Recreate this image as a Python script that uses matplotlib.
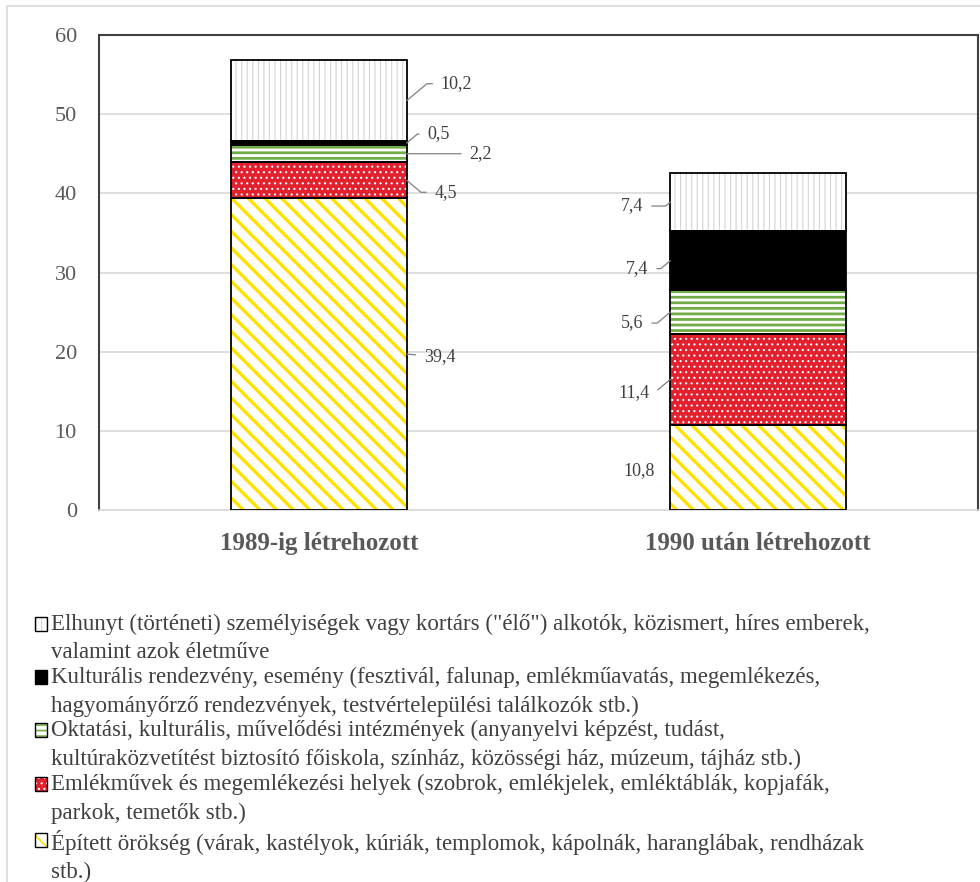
import matplotlib
matplotlib.use('Agg')
import matplotlib.pyplot as plt
from matplotlib.patches import Rectangle

plt.rcParams['font.family'] = ['Liberation Serif', 'DejaVu Serif']

# Data
categories = ['1989-ig létrehozott', '1990 után létrehozott']
epitett = [39.4, 10.8]
emlekmu = [4.5, 11.4]
oktatasi = [2.2, 5.6]
kulturalis = [0.5, 7.4]
elhunyt = [10.2, 7.4]

series_names = [
    'Épített örökség (várak, kastélyok, kúriák, templomok, kápolnák, haranglábak, rendházak\nstb.)',
    'Emlékművek és megemlékezési helyek (szobrok, emlékjelek, emléktáblák, kopjafák,\nparkok, temetők stb.)',
    'Oktatási, kulturális, művelődési intézmények (anyanyelvi képzést, tudást,\nkultúraközvetítést biztosító főiskola, színház, közösségi ház, múzeum, tájház stb.)',
    'Kulturális rendezvény, esemény (fesztivál, falunap, emlékműavatás, megemlékezés,\nhagyományőrző rendezvények, testvértelepülési találkozók stb.)',
    'Elhunyt (történeti) személyiségek vagy kortárs ("élő") alkotók, közismert, híres emberek,\nvalamint azok életműve',
]
series_values = [epitett, emlekmu, oktatasi, kulturalis, elhunyt]

# style per series: face, hatch, hatch colour, hatch linewidth
styles = [
    ('white', '\\\\', '#FFE100', 2.4),
    ('#E3202E', '...', 'white', 0.8),
    ('white', '---', '#70AD47', 2.0),
    ('black', '', 'black', 0.0),
    ('white', '|||', '#D4D4D4', 0.8),
]

# label offsets in pixels (dx, dy, leader) per series, per bar
label_offsets = [
    [(33, -3, 'straight'), (-31, -3, None)],
    [(39, -12, 'bend'), (-36, -13, 'bend')],
    [(74, 0, 'straight'), (-38, -11, 'bend')],
    [(32, 9, 'bend'), (-33, -8, 'bend')],
    [(50, 17, 'bend'), (-38, -4, 'bend')],
]

text_col = '#404040'
grey = '#595959'
W, H = 980, 882


def fx(px):
    return px / W


def fy(py):
    return 1 - py / H


fig = plt.figure(figsize=(9.8, 8.82), dpi=100)
ax = fig.add_axes([fx(99), fy(510), 879 / W, 475 / H])

x = [0, 1]
width = 0.4
bottoms = [0.0, 0.0]
for vals, (face, hatch, hcol, hlw), offs in zip(series_values, styles, label_offsets):
    with plt.rc_context({'hatch.linewidth': hlw if hlw > 0 else 1.0}):
        ax.bar(x, vals, width, bottom=bottoms, color=face, edgecolor=hcol,
               hatch=hatch, linewidth=0, zorder=2)
    ax.bar(x, vals, width, bottom=bottoms, fill=False, edgecolor='black', linewidth=1.3, zorder=3)

    for i, (v, b) in enumerate(zip(vals, bottoms)):
        dx, dy, leader = offs[i]
        edge = x[i] + width / 2 if i == 0 else x[i] - width / 2
        ymid = b + v / 2
        lab = f'{v:.1f}'.replace('.', ',')
        if leader == 'bend':
            ang = 40 if dy > 0 else -40
            if i == 1:
                ang = 180 - ang
            arrow = dict(arrowstyle='-', color='#808080', lw=0.9, shrinkA=4, shrinkB=0,
                         connectionstyle=f'angle,angleA=0,angleB={ang},rad=0')
        elif leader == 'straight':
            arrow = dict(arrowstyle='-', color='#808080', lw=0.9, shrinkA=4, shrinkB=0)
        else:
            arrow = None
        ax.annotate(lab, xy=(edge, ymid), xytext=(dx, dy), textcoords='offset pixels',
                    ha='center', va='center', fontsize=13, color=text_col,
                    arrowprops=arrow, zorder=4)
    bottoms = [b + v for b, v in zip(bottoms, vals)]

ax.set_xlim(-0.5, 1.5)
ax.set_ylim(0, 60)
ax.set_yticks(range(0, 61, 10))
ax.set_xticks(x)
ax.set_xticklabels(categories, fontsize=18, fontweight='bold', color=grey)
ax.tick_params(axis='y', length=0, pad=16, labelsize=16, labelcolor=grey)
ax.tick_params(axis='x', length=0, pad=16)
ax.grid(axis='y', color='#D9D9D9', linewidth=1.2, zorder=0)
ax.set_axisbelow(True)
for s in ['left', 'top', 'right']:
    ax.spines[s].set_color('#404040')
    ax.spines[s].set_linewidth(1.5)
ax.spines['bottom'].set_color('#D9D9D9')
ax.spines['bottom'].set_linewidth(1.2)

# outer frame
fig.add_artist(plt.Line2D([fx(7), fx(7), 1], [0, fy(6), fy(6)],
                          transform=fig.transFigure, color='#D9D9D9', lw=1.2))

# legend, drawn by hand so the key box sits on the first line of each entry
first_line = [624, 677, 730, 784, 840]
for k, (name, (face, hatch, hcol, hlw)) in enumerate(zip(series_names[::-1], styles[::-1])):
    yc = first_line[k]
    with plt.rc_context({'hatch.linewidth': min(hlw, 1.2) if hlw > 0 else 1.0}):
        fig.add_artist(Rectangle((fx(35), fy(yc + 7)), 12 / W, 14 / H, transform=fig.transFigure,
                                 facecolor=face, edgecolor=hcol, hatch=hatch, linewidth=0))
    fig.add_artist(Rectangle((fx(35), fy(yc + 7)), 12 / W, 14 / H, transform=fig.transFigure,
                             fill=False, edgecolor='black', linewidth=1.0))
    fig.text(fx(51), fy(yc - 10), name, ha='left', va='top', fontsize=16.5,
             color=text_col, linespacing=1.45)

fig.savefig('out.png', dpi=100)
